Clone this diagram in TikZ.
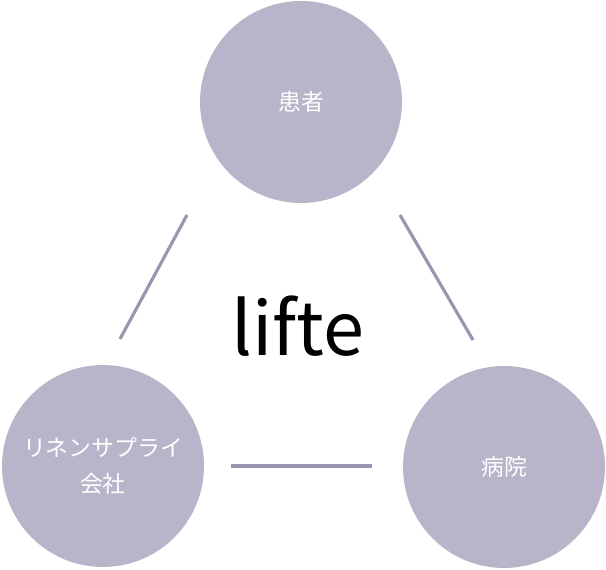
\documentclass[tikz,border=0pt]{standalone}
\usepackage{fontspec}
\newfontfamily\cjk{Noto Sans CJK JP}
\usetikzlibrary{positioning}
\definecolor{circfill}{HTML}{B8B5CA}
\definecolor{linkline}{HTML}{9A95B0}
\begin{document}
\begin{tikzpicture}[x=0.02cm,y=-0.02cm]
	\tikzstyle{party}=[circle,fill=circfill,minimum size=4.04cm,inner sep=0pt,text=white,font=\cjk\fontsize{13pt}{20pt}\selectfont,align=center];
	\tikzstyle{link}=[draw=linkline,line width=1.8pt];
	\useasboundingbox (0,0) rectangle (606,570);
	%% parties
	\node[party] (patient) at (301,102) {患者};
	\node[party] (linen) at (103,466) {リネンサプライ\\会社};
	\node[party] (hospital) at (504,467) {病院};
	%% logo
	\node[font=\cjk\fontsize{42pt}{44pt}\selectfont] (logo) at (298,326) {lifte};
	%% link ends
	\coordinate (pl1) at (187,215);
	\coordinate (pl2) at (120,339);
	\coordinate (ph1) at (400,215);
	\coordinate (ph2) at (473,340);
	\coordinate (lh1) at (231,466);
	\coordinate (lh2) at (372,466);
	%% links
	\draw[link] (pl1) -- (pl2);
	\draw[link] (ph1) -- (ph2);
	\draw[link] (lh1) -- (lh2);
\end{tikzpicture}
\end{document}
